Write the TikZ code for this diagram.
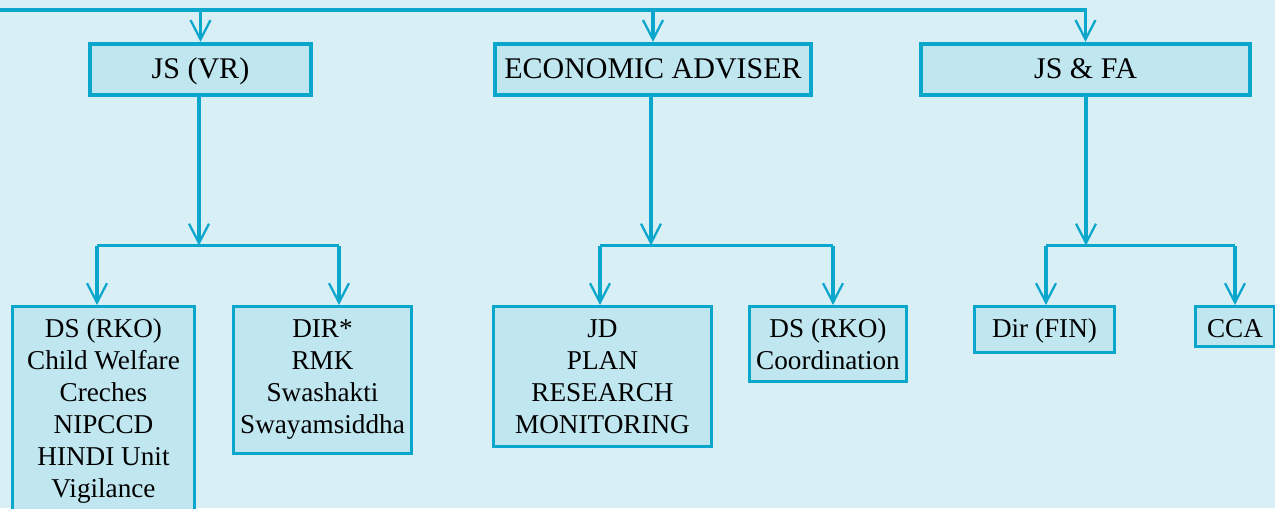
\documentclass[tikz,border=0pt]{standalone}
\usepackage{fontspec}
\setmainfont{Liberation Serif}
\usetikzlibrary{arrows.meta,calc}
\definecolor{bgc}{HTML}{D9EFF6}
\definecolor{boxc}{HTML}{C0E6F0}
\definecolor{linec}{HTML}{0AA6CC}
\tikzset{
  topbox/.style={draw=linec, fill=boxc, line width=3.2pt, inner sep=0pt,
    font=\fontsize{22.5}{27}\selectfont, text height=16.5pt, text depth=3.75pt},
  subbox/.style={draw=linec, fill=boxc, line width=2.3pt, inner sep=0pt, align=center,
    font=\fontsize{20.4}{24}\selectfont, text height=14pt},
  conn/.style={draw=linec, line width=2.3pt},
  arr/.style={conn, -{Straight Barb[length=14.5pt, width=15pt, line width=1.7pt]}}
}
\begin{document}
\begin{tikzpicture}[x=0.75pt, y=-0.75pt]
\useasboundingbox (0,0) rectangle (1275,508);
\fill[bgc] (0,0) rectangle (1275,508);
\clip (0,0) rectangle (1275,508);
% top boxes
\node[topbox, minimum width=165.75pt, minimum height=38.25pt] (jsvr) at (200.5,69.5) {JS (VR)};
\node[topbox, minimum width=237pt, minimum height=38.25pt] (ea) at (653,69.5) {ECONOMIC ADVISER};
\node[topbox, minimum width=246.75pt, minimum height=38.25pt] (jsfa) at (1085.5,69.5) {JS \& FA};
% bottom boxes
\node[subbox, text height=134pt, text depth=3.5pt, minimum width=136.5pt, minimum height=155.25pt] (ds1) at (103.5,410)
  {DS (RKO)\\Child Welfare\\Creches\\NIPCCD\\HINDI Unit\\Vigilance};
\node[subbox, text height=86pt, text depth=6.5pt, minimum width=133.5pt, minimum height=110.25pt] (dir) at (322.5,380)
  {DIR*\\RMK\\Swashakti\\Swayamsiddha};
\node[subbox, text height=86pt, text depth=1.25pt, minimum width=163.5pt, minimum height=105pt] (jd) at (602.5,376.5)
  {JD\\PLAN\\RESEARCH\\MONITORING};
\node[subbox, text height=38pt, text depth=0.5pt, minimum width=117.75pt, minimum height=56.25pt] (ds2) at (828,344)
  {DS (RKO)\\Coordination};
\node[subbox, text depth=2.75pt, minimum width=105pt, minimum height=34.5pt] (fin) at (1044.5,329.5) {Dir (FIN)};
\node[subbox, text height=16.5pt, text depth=0.75pt, minimum width=59.25pt, minimum height=30pt] (cca) at (1235,326.5) {CCA};
% top line
\coordinate (top) at (-10,10);
\draw[arr] (top) -| (jsfa.north);
\draw[arr] (top -| jsvr.north) -- (jsvr.north);
\draw[arr] (top -| ea.north) -- (ea.north);
% junctions
\coordinate (j1) at (199,245.5);
\coordinate (j2) at (651,245.5);
\coordinate (j3) at (1086,245.5);
\draw[arr] (jsvr.south -| j1) -- (j1);
\draw[arr] (ea.south -| j2) -- (j2);
\draw[arr] (jsfa.south -| j3) -- (j3);
% arrow ends on the lower boxes
\coordinate (e1) at ($(ds1.north)+(-6.5,0)$);
\coordinate (e2) at ($(dir.north)+(16.5,0)$);
\coordinate (e3) at ($(jd.north)+(-2.5,0)$);
\coordinate (e4) at ($(ds2.north)+(5,0)$);
\coordinate (e5) at ($(fin.north)+(1.5,0)$);
\coordinate (e6) at (cca.north);
% branches
\draw[conn] (e1 |- j1) -- (e2 |- j1);
\draw[arr] (e1 |- j1) -- (e1);
\draw[arr] (e2 |- j1) -- (e2);
\draw[conn] (e3 |- j2) -- (e4 |- j2);
\draw[arr] (e3 |- j2) -- (e3);
\draw[arr] (e4 |- j2) -- (e4);
\draw[conn] (e5 |- j3) -- (e6 |- j3);
\draw[arr] (e5 |- j3) -- (e5);
\draw[arr] (e6 |- j3) -- (e6);
\end{tikzpicture}
\end{document}
